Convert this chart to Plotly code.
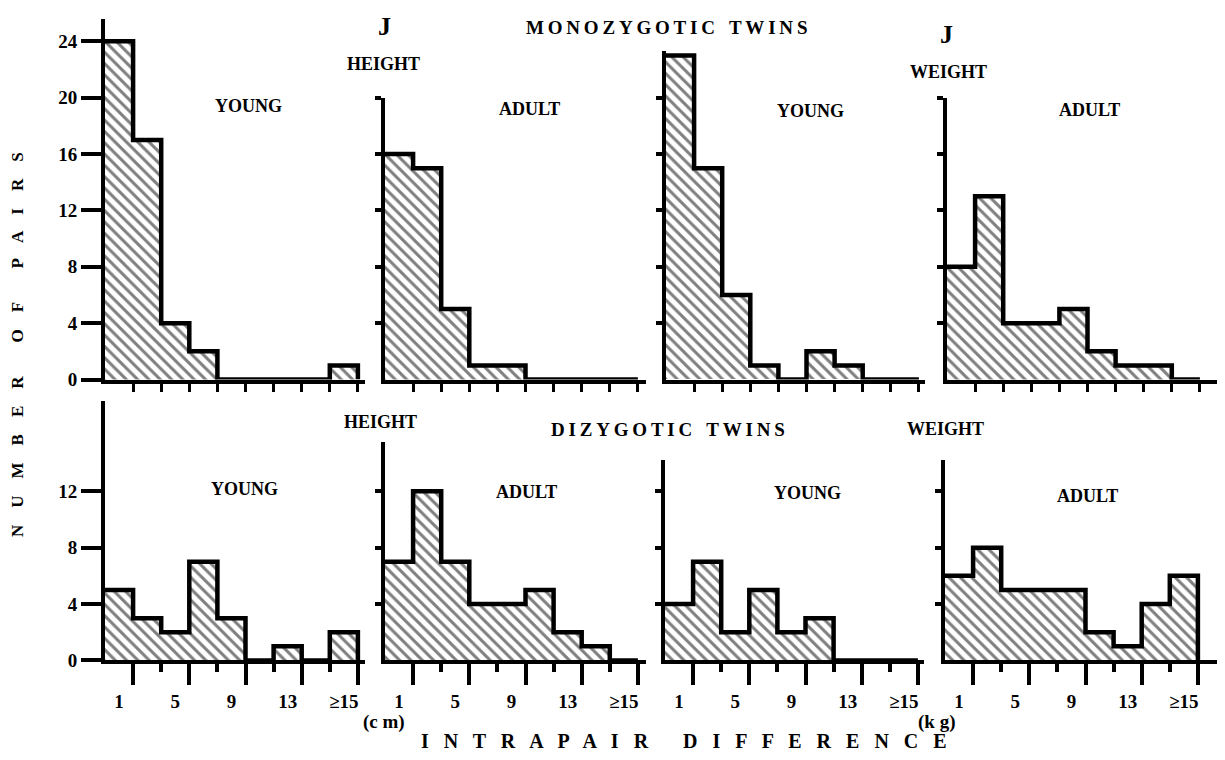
import numpy as np
import plotly.graph_objects as go

# ---------------- data (number of pairs per 2-unit bin of intrapair difference) -------------
bins = list(range(9))  # 9 bins, first centred on 1, last is ">=15"
tick_labels = ["1", "5", "9", "13", "≥15"]

mz_height_young = [24, 17, 4, 2, 0, 0, 0, 0, 1]
mz_height_adult = [16, 15, 5, 1, 1, 0, 0, 0, 0]
mz_weight_young = [23, 15, 6, 1, 0, 2, 1, 0, 0]
mz_weight_adult = [8, 13, 4, 4, 5, 2, 1, 1, 0]
dz_height_young = [5, 3, 2, 7, 3, 0, 1, 0, 2]
dz_height_adult = [7, 12, 7, 4, 4, 5, 2, 1, 0]
dz_weight_young = [4, 7, 2, 5, 2, 3, 0, 0, 0]
dz_weight_adult = [6, 8, 5, 5, 5, 2, 1, 4, 6]

panel_titles = ["YOUNG", "ADULT", "YOUNG", "ADULT", "YOUNG", "ADULT", "YOUNG", "ADULT"]

# ---------------- layout geometry -------------
W, H = 1225, 760
BIN_PX = 28.1
UNIT_PX = 14.3
FONT = "Liberation Serif"

# (series, left px, baseline px, x max, y max, row, labelled y axis)
panels = [
    (mz_height_young, 97, 377, 9.25, 25.6, "top", True),
    (mz_height_adult, 377, 377, 9.3, 20.0, "top", False),
    (mz_weight_young, 658, 377, 9.2, 23.3, "top", False),
    (mz_weight_adult, 939, 377, 9.7, 20.0, "top", False),
    (dz_height_young, 97, 662, 9.25, 18.4, "bottom", True),
    (dz_height_adult, 377, 662, 9.3, 15.5, "bottom", False),
    (dz_weight_young, 657, 662, 9.2, 14.2, "bottom", False),
    (dz_weight_adult, 937, 662, 9.9, 14.2, "bottom", False),
]

fig = go.Figure()
layout = dict(
    width=W, height=H, margin=dict(l=0, r=0, t=0, b=0),
    paper_bgcolor="white", plot_bgcolor="white", showlegend=False,
    bargap=0,
)

centers = np.array(bins) + 0.5
edges = np.arange(len(bins) + 1)

for i, (vals, left, base, xmax, ymax, row, labelled) in enumerate(panels):
    n = i + 1
    xa = "x" if n == 1 else f"x{n}"
    ya = "y" if n == 1 else f"y{n}"
    fig.add_trace(go.Bar(
        x=centers, y=vals, width=1.0, xaxis=xa, yaxis=ya,
        marker=dict(color="white", line=dict(width=0),
                    pattern=dict(shape="\\", fgcolor="black", bgcolor="white",
                                 size=8, solidity=0.38)),
        hoverinfo="skip",
    ))
    fig.add_trace(go.Scatter(
        x=edges, y=list(vals) + [0], mode="lines", line_shape="hv",
        line=dict(color="black", width=4.5), xaxis=xa, yaxis=ya, hoverinfo="skip",
    ))

    xdom = [left / W, (left + xmax * BIN_PX) / W]
    ydom = [1 - base / H, 1 - (base - ymax * UNIT_PX) / H]

    xkey = "xaxis" if n == 1 else f"xaxis{n}"
    ykey = "yaxis" if n == 1 else f"yaxis{n}"

    if row == "top":
        xaxis = dict(domain=xdom, range=[0, xmax], anchor=ya,
                     showline=True, linecolor="black", linewidth=4,
                     showgrid=False, zeroline=False,
                     tickmode="array", tickvals=list(range(1, 10)),
                     ticks="outside", ticklen=8, tickwidth=3, tickcolor="black",
                     showticklabels=False)
        yticks = list(range(0, 25, 4)) if labelled else [4, 8, 12, 16, 20]
    else:
        xaxis = dict(domain=xdom, range=[0, xmax], anchor=ya,
                     showline=True, linecolor="black", linewidth=4,
                     showgrid=False, zeroline=False,
                     tickmode="array", tickvals=[1, 3, 5, 7, 9], ticktext=tick_labels,
                     ticks="outside", ticklen=21, tickwidth=3.5, tickcolor="black",
                     ticklabelshift=-int(round(BIN_PX / 2)), ticklabelstandoff=0,
                     tickfont=dict(family=FONT, size=19, color="black", weight="bold"),
                     minor=dict(tickmode="array", tickvals=[2, 4, 6, 8], ticks="outside",
                                ticklen=8, tickwidth=3.5, tickcolor="black"))
        yticks = [0, 4, 8, 12] if labelled else [4, 8, 12]

    yaxis = dict(domain=ydom, range=[0, ymax], anchor=xa,
                 showline=True, linecolor="black", linewidth=4,
                 showgrid=False, zeroline=False,
                 tickmode="array", tickvals=yticks,
                 ticks="outside", tickcolor="black",
                 ticklen=20 if labelled else 6, tickwidth=3.5,
                 showticklabels=labelled,
                 tickfont=dict(family=FONT, size=19, color="black", weight="bold"))
    layout[xkey] = xaxis
    layout[ykey] = yaxis

fig.update_layout(**layout)


def px(xp, yp):
    return xp / W, 1 - yp / H


def add_text(text, xp, yp, size=18, angle=0):
    x, y = px(xp, yp)
    fig.add_annotation(text=text, x=x, y=y, xref="paper", yref="paper",
                       xanchor="center", yanchor="middle", showarrow=False,
                       textangle=angle,
                       font=dict(family=FONT, size=size, color="black", weight="bold"))


def spaced(s, gap=" ", word_gap="   "):
    words = s.split(" ")
    return word_gap.join(gap.join(w) for w in words)


THIN = "\u2009"

# panel labels
label_pos = [(240, 99), (521, 102), (802, 105), (1081, 103),
             (237, 488), (518, 491), (799, 492), (1079, 495)]
for t, (xp, yp) in zip(panel_titles, label_pos):
    add_text(t, xp, yp, 18)

add_text("HEIGHT", 375, 57, 18)
add_text("WEIGHT", 940, 65, 18)
add_text("HEIGHT", 372, 420, 18)
add_text("WEIGHT", 937, 427, 18)

add_text(spaced("MONOZYGOTIC TWINS", THIN, "   "), 658, 20, 19)
add_text(spaced("DIZYGOTIC TWINS", THIN, "   "), 660, 428, 19)
add_text(spaced("INTRAPAIR DIFFERENCE", "   ", " " * 7), 676, 744, 20)
add_text(spaced("NUMBER OF PAIRS", "    ", " " * 8), 9, 342, 17, angle=-90)

add_text("(c m)", 376, 724, 19)
add_text("(k g)", 928, 724, 19)

add_text("J", 376, 19, 26)
add_text("J", 938, 27, 26)

fig.write_html("out.html")
